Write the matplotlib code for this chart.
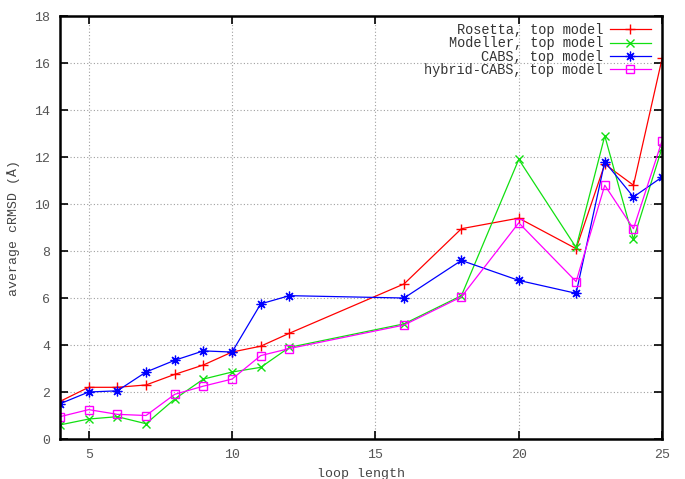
import matplotlib
matplotlib.use('Agg')
import matplotlib.pyplot as plt
import numpy as np

loop_len = [4, 5, 6, 7, 8, 9, 10, 11, 12, 16, 18, 20, 22, 23, 24, 25]
rosetta = [1.6, 2.2, 2.2, 2.3, 2.75, 3.15, 3.7, 3.95, 4.5, 6.6, 8.95, 9.4, 8.1, 11.7, 10.8, 16.2]
modeller = [0.6, 0.85, 0.95, 0.65, 1.7, 2.55, 2.85, 3.05, 3.9, 4.9, 6.1, 11.9, 8.15, 12.9, 8.5, 12.4]
cabs = [1.5, 2.0, 2.05, 2.85, 3.35, 3.75, 3.7, 5.75, 6.1, 6.0, 7.6, 6.75, 6.2, 11.8, 10.3, 11.15]
hybrid = [0.95, 1.25, 1.05, 1.0, 1.9, 2.25, 2.55, 3.55, 3.85, 4.85, 6.05, 9.2, 6.7, 10.8, 8.95, 12.7]

labels = ['Rosetta, top model', 'Modeller, top model',
          'CABS, top model', 'hybrid-CABS, top model']

mono = 'Liberation Mono'
plt.rcParams['font.family'] = mono

fig = plt.figure(figsize=(6.85, 4.79), dpi=100)
ax = fig.add_axes([0.0876, 0.0835, 0.879, 0.883])

ax.plot(loop_len, rosetta, color='#ff0000', lw=0.9, marker='+', ms=7, mew=1, label=labels[0])
ax.plot(loop_len, modeller, color='#11e011', lw=0.9, marker='x', ms=6, mew=1, label=labels[1])
ax.plot(loop_len, cabs, color='#0000ff', lw=0.9, marker=(8, 2, 0), ms=7, mew=0.9, label=labels[2])
ax.plot(loop_len, hybrid, color='#ff00ff', lw=0.9, marker='s', ms=6, mew=1,
        mfc='none', label=labels[3])

ax.set_xlim(4, 25)
ax.set_ylim(0, 18)
ax.set_xticks([5, 10, 15, 20, 25])
ax.set_yticks(np.arange(0, 19, 2))
ax.grid(True, color='#a0a0a0', ls=(0, (1, 2)), lw=0.8)
ax.tick_params(direction='in', length=6, width=1.2, top=True, right=True,
               labelsize=9.5, labelcolor='#555555', pad=7)
for s in ax.spines.values():
    s.set_linewidth(1.8)

ax.set_xlabel('loop length', fontsize=9.5, color='#444444', labelpad=5)
ax.set_ylabel('average cRMSD (Å)', fontsize=9.5, color='#444444', labelpad=10)

leg = ax.legend(loc='upper right', frameon=False, markerfirst=False,
                fontsize=9.8, handlelength=3.0, handletextpad=0.5, labelspacing=-0.05,
                bbox_to_anchor=(0.993, 1.0), borderaxespad=0.12)
for t in leg.get_texts():
    t.set_color('#333333')

fig.savefig('out.png', dpi=100)
